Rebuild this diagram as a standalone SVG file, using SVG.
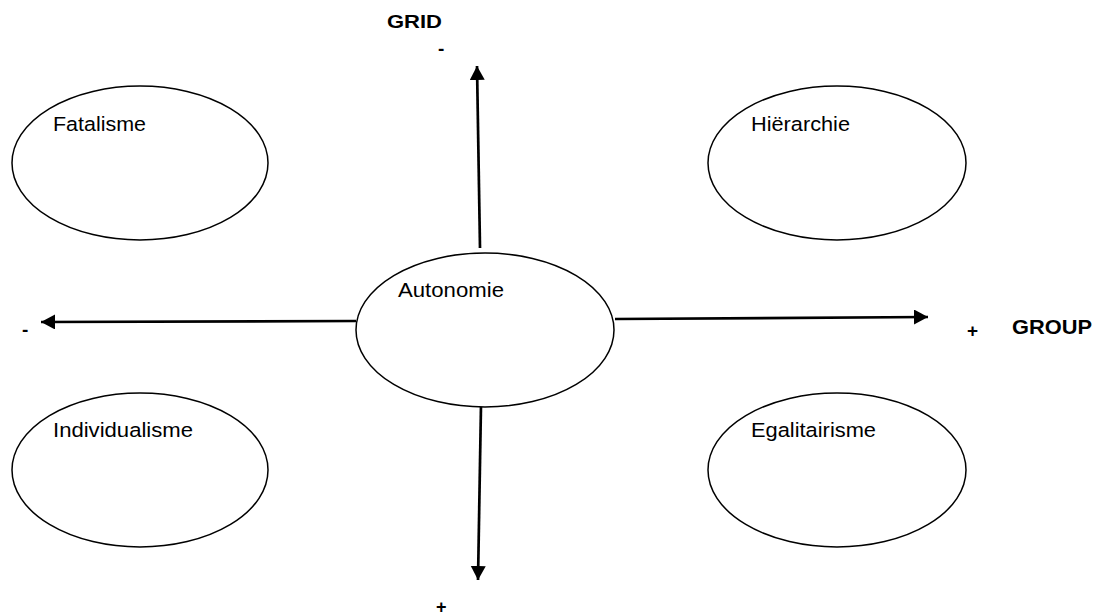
<svg xmlns="http://www.w3.org/2000/svg" width="1096" height="614" viewBox="0 0 1096 614">
<style>
.n{fill:#fff;stroke:#000;stroke-width:1.5}
.t{font-family:"Liberation Sans",Arial,sans-serif;font-size:20.5px;fill:#000}
.b{font-family:"Liberation Sans",Arial,sans-serif;font-weight:bold;fill:#000}
.c{stroke:#000;stroke-width:2.7;fill:none;marker-end:url(#ah)}
</style>
<defs>
<marker id="ah" markerUnits="userSpaceOnUse" markerWidth="15" markerHeight="16" refX="14" refY="7.5" orient="auto">
<path d="M0,0 L14,7.5 L0,15 z" fill="#000"/>
</marker>
</defs>
<rect width="1096" height="614" fill="#fff"/>
<g id="connectors">
<line class="c" x1="480" y1="248" x2="477" y2="66"/>
<line class="c" x1="481" y1="405" x2="478" y2="580"/>
<line class="c" x1="356" y1="321" x2="41" y2="322"/>
<line class="c" x1="615" y1="319" x2="928" y2="317"/>
</g>
<g id="fatalisme">
<ellipse class="n" cx="140" cy="163" rx="128" ry="77"/>
<text class="t" x="53" y="131" textLength="93" lengthAdjust="spacingAndGlyphs">Fatalisme</text>
</g>
<g id="hierarchie">
<ellipse class="n" cx="837" cy="163" rx="129" ry="77"/>
<text class="t" x="751" y="131" textLength="99" lengthAdjust="spacingAndGlyphs">Hiërarchie</text>
</g>
<g id="autonomie">
<ellipse class="n" cx="485" cy="330" rx="129" ry="77"/>
<text class="t" x="398" y="297" textLength="106" lengthAdjust="spacingAndGlyphs">Autonomie</text>
</g>
<g id="individualisme">
<ellipse class="n" cx="140" cy="470" rx="128" ry="77"/>
<text class="t" x="53" y="437" textLength="140" lengthAdjust="spacingAndGlyphs">Individualisme</text>
</g>
<g id="egalitairisme">
<ellipse class="n" cx="837" cy="470" rx="129" ry="77"/>
<text class="t" x="751" y="437" textLength="125" lengthAdjust="spacingAndGlyphs">Egalitairisme</text>
</g>
<g id="labels">
<text class="b" x="387" y="28" font-size="18.5" textLength="55" lengthAdjust="spacingAndGlyphs">GRID</text>
<text class="b" x="438" y="55" font-size="19">-</text>
<text class="b" x="22" y="336" font-size="19">-</text>
<text class="b" x="967" y="337" font-size="19">+</text>
<text class="b" x="1012" y="334" font-size="20" textLength="80" lengthAdjust="spacingAndGlyphs">GROUP</text>
<text class="b" x="436" y="613" font-size="18">+</text>
</g>
</svg>
